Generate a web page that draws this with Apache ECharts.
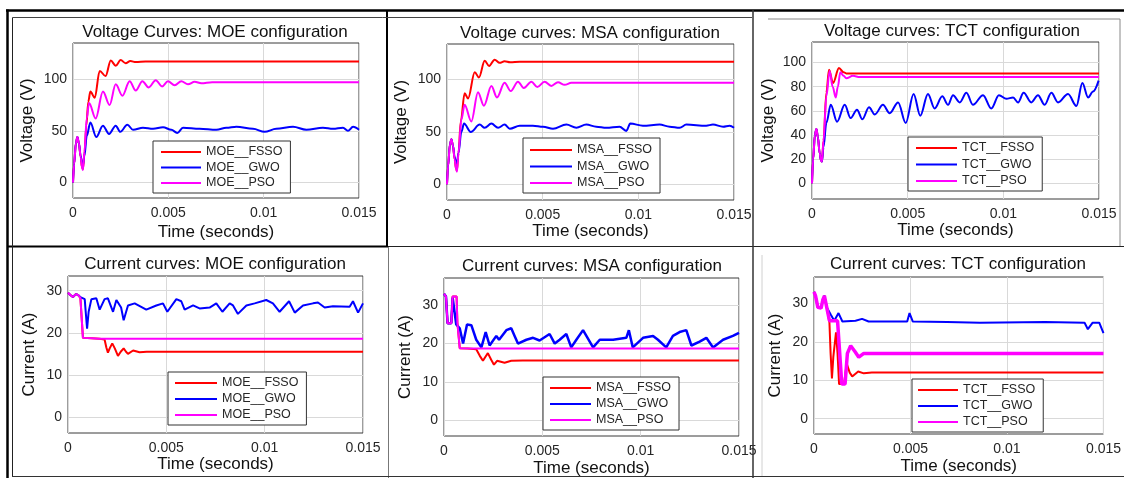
<!DOCTYPE html>
<html><head><meta charset="utf-8">
<script src="https://cdn.jsdelivr.net/npm/echarts@6/dist/echarts.min.js"></script>
<style>html,body{margin:0;padding:0;background:#fff}#c{width:1124px;height:478px}</style>
</head><body><div id="c"></div><script>
// ---------- tick labels ----------
const timeTicks = [0, 0.005, 0.01, 0.015];
const voltTicks50 = [0, 50, 100];
const voltTicks20 = [0, 20, 40, 60, 80, 100];
const currTicks = [0, 10, 20, 30];

// ---------- series names ----------
const moeNames = ['MOE__FSSO', 'MOE__GWO', 'MOE__PSO'];
const msaNames = ['MSA__FSSO', 'MSA__GWO', 'MSA__PSO'];
const tctNames = ['TCT__FSSO', 'TCT__GWO', 'TCT__PSO'];

// ---------- voltage, MOE ----------
const moeV_FSSO = [[0,0],[0.00006,18],[0.00015,38],[0.00023,44],[0.00031,38],[0.0004,25],[0.00047,15],[0.00052,13],[0.0006,28],[0.0007,55],[0.0008,78],[0.00091,88],[0.00114,82],[0.0014,108],[0.00171,103],[0.00198,118],[0.00224,113],[0.0025,118.5],[0.00276,115.5],[0.00301,117.5],[0.0033,116.5],[0.0038,117],[0.015,117]];
const moeV_GWO = [[0,0],[0.00006,18],[0.00015,38],[0.00023,44],[0.00031,38],[0.0004,26],[0.00047,19],[0.00052,17],[0.0006,26],[0.00072,45],[0.00091,58],[0.00122,44],[0.00157,55],[0.00189,47],[0.00224,55],[0.00248,49],[0.00285,56],[0.00315,51],[0.00367,53],[0.0042,52],[0.00472,53.5],[0.00516,51],[0.00547,48],[0.00577,53],[0.00664,52],[0.00752,51],[0.00804,53],[0.00857,54],[0.00944,52],[0.01005,49],[0.01066,52],[0.01154,54],[0.01224,51],[0.01311,53],[0.01364,52],[0.01416,53],[0.01442,50],[0.01469,54],[0.015,51]];
const moeV_PSO = [[0,0],[0.00006,18],[0.00015,38],[0.00023,44],[0.00031,38],[0.0004,25],[0.00047,15],[0.00052,12],[0.0006,30],[0.00072,62],[0.00084,77],[0.00119,62],[0.00157,88],[0.00192,75],[0.00224,95],[0.00259,84],[0.00297,98],[0.00329,89],[0.00364,98],[0.00397,92],[0.00434,99],[0.00467,93],[0.00498,98],[0.00533,94],[0.00568,98],[0.00603,95],[0.00638,97.5],[0.00673,96],[0.0073,97],[0.015,97]];

// ---------- voltage, MSA ----------
const msaV_FSSO = [[0,0],[0.00006,18],[0.00015,38],[0.00023,43],[0.00031,37],[0.0004,24],[0.00047,15],[0.00052,13],[0.0006,30],[0.00072,60],[0.00092,87],[0.0011,82],[0.00145,107],[0.00167,102],[0.00197,118],[0.0022,113],[0.00249,119],[0.00275,116],[0.00301,117.5],[0.0033,116.5],[0.0038,117],[0.015,117]];
const msaV_GWO = [[0,0],[0.00006,18],[0.00015,38],[0.00023,43],[0.00031,37],[0.0004,26],[0.00047,21],[0.00052,20],[0.0006,30],[0.00075,50],[0.00089,58],[0.00124,50],[0.00171,57],[0.00197,54],[0.00232,58],[0.00267,54],[0.00301,57],[0.00328,53],[0.0038,56],[0.00449,56],[0.00502,55],[0.00554,53],[0.00624,57],[0.00676,54],[0.00728,57],[0.0078,55],[0.00833,54],[0.00902,55],[0.00937,51],[0.00958,58],[0.01024,56],[0.01111,57],[0.01164,55],[0.01216,54],[0.01251,57],[0.01355,56],[0.0139,57],[0.01443,55],[0.01477,56],[0.015,54]];
const msaV_PSO = [[0,0],[0.00006,18],[0.00015,38],[0.00023,43],[0.00031,37],[0.0004,24],[0.00047,15],[0.00052,12],[0.0006,30],[0.00075,62],[0.00092,76],[0.00127,60],[0.00162,88],[0.00193,75],[0.00232,94],[0.00261,83],[0.00301,97],[0.00333,89],[0.00371,98],[0.00401,92],[0.00441,98],[0.00472,93],[0.0051,98],[0.00545,94],[0.0058,97.5],[0.00615,95],[0.0065,97],[0.007,97],[0.015,97]];

// ---------- voltage, TCT ----------
const tctV_FSSO = [[0,0],[0.00006,20],[0.00015,40],[0.00023,45],[0.00031,38],[0.0004,25],[0.00047,19],[0.00052,18],[0.0006,35],[0.00075,75],[0.00089,94],[0.0011,83],[0.00141,95.5],[0.00165,92],[0.00179,91],[0.0022,91],[0.015,91]];
const tctV_GWO = [[0,0],[0.00006,20],[0.00015,40],[0.00023,45],[0.00031,38],[0.0004,25],[0.00047,19],[0.00052,18],[0.0006,30],[0.00075,50],[0.00098,65],[0.00131,51],[0.00171,65],[0.00202,54],[0.00235,61],[0.00263,53],[0.00298,63],[0.00328,57],[0.00371,65],[0.00406,58],[0.0045,67],[0.0049,50],[0.00531,74],[0.00566,56],[0.00606,74],[0.00641,62],[0.00681,72],[0.00711,65],[0.00737,73],[0.00772,67],[0.00807,75],[0.00841,65],[0.00894,73],[0.00937,62],[0.00977,73],[0.01016,70],[0.01051,71],[0.01077,67],[0.01106,75],[0.01146,67],[0.01181,73],[0.01216,65],[0.01251,75],[0.01286,67],[0.01338,74],[0.01382,64],[0.01413,83],[0.01443,71],[0.01469,76],[0.01498,85]];
const tctV_PSO = [[0,0],[0.00006,20],[0.00015,40],[0.00023,45],[0.00031,38],[0.0004,25],[0.00047,19],[0.00052,18],[0.0006,35],[0.00075,72],[0.00092,93],[0.00108,80],[0.00124,71],[0.00135,80],[0.00148,92],[0.00165,89],[0.00179,87],[0.00214,89],[0.0025,88],[0.015,88]];

// ---------- current, MOE ----------
const moeI_FSSO = [[0,29.5],[0.00012,29],[0.00025,28.5],[0.0004,29.2],[0.00051,29],[0.00063,28.3],[0.00072,28.5],[0.00076,18.8],[0.0012,18.7],[0.0016,18.6],[0.00186,18.4],[0.00195,16.5],[0.00203,15.3],[0.00212,16.3],[0.00225,17.5],[0.00238,16.3],[0.00254,14.5],[0.00268,15.5],[0.00283,16.3],[0.00295,15.5],[0.00305,15],[0.00331,15.8],[0.00364,15.4],[0.004,15.5],[0.015,15.5]];
const moeI_GWO = [[0,29.5],[0.00012,29],[0.00025,28.5],[0.0004,29.2],[0.00051,29],[0.00063,28.5],[0.00085,28],[0.0009,25],[0.00097,21],[0.00105,25],[0.00119,28],[0.00144,28.2],[0.00161,25.5],[0.00186,28],[0.00203,28.2],[0.00229,25],[0.00246,27.8],[0.00254,28],[0.0027,26],[0.00283,23],[0.00305,26.5],[0.00339,27],[0.00398,25.5],[0.00449,26.5],[0.00483,27],[0.00505,25],[0.00551,28],[0.00576,27.5],[0.00593,25.5],[0.00636,26.5],[0.00669,25.8],[0.0072,26],[0.00754,27],[0.00785,25],[0.00822,27],[0.00839,26.5],[0.00864,24.5],[0.00907,26.5],[0.00949,27],[0.01008,27.8],[0.01042,27],[0.01076,25],[0.01124,27.5],[0.01153,24.8],[0.01195,26.5],[0.01246,27],[0.01271,27.2],[0.01305,26],[0.01347,26.3],[0.01432,26.2],[0.01449,27.5],[0.01475,24.8],[0.015,27]];
const moeI_PSO = [[0,29.5],[0.00012,29],[0.00025,28.5],[0.0004,29.2],[0.00051,29],[0.00063,28.3],[0.00072,28.5],[0.00076,18.8],[0.0012,18.7],[0.0016,18.6],[0.015,18.6]];

// ---------- current, MSA ----------
const msaI_FSSO = [[0,33],[0.0001,32.3],[0.00018,25.3],[0.00037,25.3],[0.00044,32.3],[0.00064,32.3],[0.00068,25.5],[0.00076,25],[0.0008,18.8],[0.0012,18.7],[0.00164,18.5],[0.00182,16.8],[0.00198,15.5],[0.0021,16.5],[0.00223,17.5],[0.0024,15.8],[0.00254,14.5],[0.0027,15.5],[0.00279,16],[0.00308,15],[0.00342,15.5],[0.004,15.6],[0.015,15.6]];
const msaI_GWO = [[0,33],[0.0001,32.3],[0.00018,25.3],[0.00037,25.3],[0.00044,32],[0.00054,32],[0.00062,25],[0.0008,24],[0.00097,20],[0.00117,25],[0.00139,24.8],[0.00164,21],[0.0019,19],[0.00212,23],[0.00232,19.5],[0.00266,22],[0.0028,21],[0.00317,23.5],[0.00342,24],[0.00359,22],[0.00376,20],[0.00419,21],[0.00453,21.5],[0.00486,20.8],[0.00537,22.5],[0.00563,20],[0.00588,21],[0.00622,22.5],[0.00647,19],[0.00673,21],[0.00707,23.5],[0.00758,19],[0.00792,21],[0.0086,21],[0.00927,21.5],[0.0094,23.5],[0.0096,19],[0.01012,21.5],[0.01063,22],[0.01088,21],[0.0113,19],[0.01164,22],[0.01198,23],[0.01232,23.5],[0.01258,19.5],[0.013,20.5],[0.01334,21.5],[0.01368,19],[0.01419,21],[0.01469,22],[0.015,22.8]];
const msaI_PSO = [[0,33],[0.0001,32.3],[0.00018,25.3],[0.00037,25.3],[0.00044,32.3],[0.00064,32.3],[0.00068,25.5],[0.00076,25],[0.0008,18.8],[0.0015,18.7],[0.015,18.7]];

// ---------- current, TCT ----------
const tctI_FSSO = [[0,33],[0.00008,32],[0.0002,29],[0.00037,28.8],[0.00046,31],[0.00054,32],[0.00066,29],[0.0008,25],[0.00086,17],[0.00093,10.5],[0.001,16],[0.00114,22.5],[0.00122,17],[0.0013,9],[0.00156,9],[0.00163,12],[0.0017,14.3],[0.00185,12],[0.00198,11],[0.00229,12.3],[0.00258,11.8],[0.003,12],[0.015,12]];
const tctI_GWO = [[0,33],[0.00008,32],[0.0002,29],[0.00037,28.8],[0.00046,31],[0.00054,32],[0.00066,29],[0.00071,28.5],[0.00088,27],[0.00105,25.5],[0.00127,27.5],[0.00147,25.3],[0.00215,25.5],[0.00249,26],[0.00283,25.3],[0.00483,25.3],[0.00495,27.5],[0.00512,25.3],[0.0069,25.2],[0.0086,25],[0.01198,25.2],[0.01402,25],[0.01419,23.3],[0.01444,25],[0.01478,25],[0.015,22.3]];
const tctI_PSO = [[0,33],[0.00008,32],[0.0002,29],[0.00037,28.8],[0.00046,31],[0.00054,32],[0.00066,29],[0.0008,25.5],[0.00122,25.5],[0.0013,25],[0.00144,9],[0.00161,9],[0.00173,17],[0.0019,19],[0.00212,17.5],[0.00232,16],[0.00258,17],[0.003,17],[0.015,17]];

// ---------- layout / style ----------
const FONT = "'Liberation Sans', Arial, Helvetica, sans-serif";
const COLORS = ['#ff0000', '#0000ff', '#ff00ff'];
const TXT = '#262626';

const panels = [
  {title:'Voltage Curves: MOE configuration', tx:215, ty:24, grid:{left:73,top:43,width:286,height:155}, yName:'Voltage (V)', yMin:-15, yMax:135, yTicks:voltTicks50, yGap:37, xGap:26,
   leg:{left:153,top:141,padding:[4,8,3,8],w:40,gap:1.5}, names:moeNames, data:[moeV_FSSO,moeV_GWO,moeV_PSO], smooth:0.35, widths:[2,2,2]},
  {title:'Voltage curves: MSA configuration', tx:590, ty:25, grid:{left:447,top:44,width:287,height:156}, yName:'Voltage (V)', yMin:-15, yMax:134, yTicks:voltTicks50, yGap:37, xGap:23,
   leg:{left:523,top:138,padding:[5,8,3,7],w:42,gap:2.5}, names:msaNames, data:[msaV_FSSO,msaV_GWO,msaV_PSO], smooth:0.35, widths:[2,2,2]},
  {title:'Voltage curves: TCT configuration', tx:952, ty:23, grid:{left:812,top:42,width:287,height:157}, yName:'Voltage (V)', yMin:-13, yMax:117, yTicks:voltTicks20, yGap:35, xGap:21,
   leg:{left:908,top:137,padding:[4,8,3,8],w:41,gap:2.5}, names:tctNames, data:[tctV_FSSO,tctV_GWO,tctV_PSO], smooth:0.35, widths:[2,2,2]},
  {title:'Current curves: MOE configuration', tx:215, ty:256, grid:{left:68,top:276,width:295,height:157}, yName:'Current (A)', yMin:-3.8, yMax:33.5, yTicks:currTicks, yGap:30, xGap:22,
   leg:{left:168,top:372,padding:[4,8,3,7],w:42,gap:2}, names:moeNames, data:[moeI_FSSO,moeI_GWO,moeI_PSO], smooth:false, widths:[2,2,2]},
  {title:'Current curves: MSA configuration', tx:592, ty:258, grid:{left:444,top:278,width:295,height:158}, yName:'Current (A)', yMin:-4.1, yMax:37.1, yTicks:currTicks, yGap:30, xGap:24,
   leg:{left:543,top:377,padding:[4,8,3,7],w:41,gap:2}, names:msaNames, data:[msaI_FSSO,msaI_GWO,msaI_PSO], smooth:false, widths:[2,2.5,2]},
  {title:'Current curves: TCT configuration', tx:958, ty:256, grid:{left:814,top:277,width:295,height:157}, yName:'Current (A)', yMin:-4, yMax:36.9, yTicks:currTicks, yGap:30, xGap:24,
   leg:{left:912,top:379,padding:[4,8,3,6],w:40,gap:2}, names:tctNames, data:[tctI_FSSO,tctI_GWO,tctI_PSO], smooth:false, widths:[2,2,3.5]}
];

const fmtT = v => String(Math.round(v * 1000) / 1000);

const option = {
  animation: false,
  backgroundColor: '#fff',
  textStyle: {fontFamily: FONT},
  title: panels.map(p => ({text: p.title, left: p.tx, top: p.ty, padding: 0, textAlign: 'center',
    textStyle: {fontFamily: FONT, fontSize: 17, fontWeight: 'normal', color: '#111'}})),
  grid: panels.map(p => Object.assign({show: true, backgroundColor: '#fff', borderColor: '#3a3a3a', borderWidth: 1, containLabel: false}, p.grid)),
  xAxis: panels.map((p, i) => ({gridIndex: i, type: 'value', min: 0, max: 0.015,
    axisLine: {show: false}, axisTick: {show: false, customValues: timeTicks},
    splitLine: {show: true, lineStyle: {color: '#d9d9d9', width: 1}},
    axisLabel: {customValues: timeTicks, formatter: fmtT, color: TXT, fontSize: 14, margin: 8, fontFamily: FONT},
    name: 'Time (seconds)', nameLocation: 'middle', nameGap: p.xGap,
    nameTextStyle: {fontSize: 17, color: '#111', fontFamily: FONT}})),
  yAxis: panels.map((p, i) => ({gridIndex: i, type: 'value', min: p.yMin, max: p.yMax,
    axisLine: {show: false}, axisTick: {show: false, customValues: p.yTicks},
    splitLine: {show: true, lineStyle: {color: '#d9d9d9', width: 1}},
    axisLabel: {customValues: p.yTicks, color: TXT, fontSize: 14, margin: 6, fontFamily: FONT},
    name: p.yName, nameLocation: 'middle', nameGap: p.yGap,
    nameTextStyle: {fontSize: 17, color: '#111', fontFamily: FONT}})),
  legend: panels.map(p => ({data: p.names, orient: 'vertical', left: p.leg.left, top: p.leg.top,
    padding: p.leg.padding, icon: 'rect', itemWidth: p.leg.w, itemHeight: 2, itemGap: p.leg.gap,
    backgroundColor: '#fff', borderColor: '#333', borderWidth: 1, borderRadius: 0,
    selectedMode: false, z: 10,
    textStyle: {fontSize: 12.5, color: TXT, fontFamily: FONT, lineHeight: 14}})),
  series: [],
  graphic: [
    {type:'line', shape:{x1:6,y1:10.5,x2:1124,y2:10.5}, style:{stroke:'#000', lineWidth:2.5}, z:100},
    {type:'line', shape:{x1:7.5,y1:9.5,x2:7.5,y2:478}, style:{stroke:'#000', lineWidth:2.5}, z:100},
    {type:'line', shape:{x1:387,y1:10,x2:387,y2:247}, style:{stroke:'#000', lineWidth:2}, z:100},
    {type:'line', shape:{x1:7,y1:246.5,x2:388,y2:246.5}, style:{stroke:'#000', lineWidth:2}, z:100},
    {type:'line', shape:{x1:388,y1:246.5,x2:1124,y2:246.5}, style:{stroke:'#222', lineWidth:1.2}, z:100},
    {type:'line', shape:{x1:12.5,y1:17.5,x2:12.5,y2:476.5}, style:{stroke:'#222', lineWidth:1}, z:100},
    {type:'line', shape:{x1:12.5,y1:17.5,x2:752,y2:17.5}, style:{stroke:'#444', lineWidth:1}, z:100},
    {type:'line', shape:{x1:768,y1:19,x2:1120,y2:19}, style:{stroke:'#888', lineWidth:1}, z:100},
    {type:'line', shape:{x1:1120,y1:19,x2:1120,y2:246}, style:{stroke:'#888', lineWidth:1}, z:100},
    {type:'line', shape:{x1:753,y1:10,x2:753,y2:478}, style:{stroke:'#333', lineWidth:1.5}, z:100},
    {type:'line', shape:{x1:388.5,y1:247,x2:388.5,y2:478}, style:{stroke:'#777', lineWidth:1}, z:100},
    {type:'line', shape:{x1:762,y1:255,x2:762,y2:476}, style:{stroke:'#d0d0d0', lineWidth:1}, z:100},
    {type:'line', shape:{x1:12,y1:476.5,x2:1124,y2:476.5}, style:{stroke:'#333', lineWidth:1}, z:100}
  ]
};

panels.forEach((p, i) => {
  p.names.forEach((n, j) => {
    option.series.push({type: 'line', name: n, xAxisIndex: i, yAxisIndex: i, data: p.data[j],
      showSymbol: false, symbol: 'none', smooth: p.smooth, smoothMonotone: 'x',
      lineStyle: {width: p.widths[j], color: COLORS[j]}, itemStyle: {color: COLORS[j]}, z: 2 + j});
  });
});

const chart = echarts.init(document.getElementById('c'));
chart.setOption(option);
</script></body></html>
